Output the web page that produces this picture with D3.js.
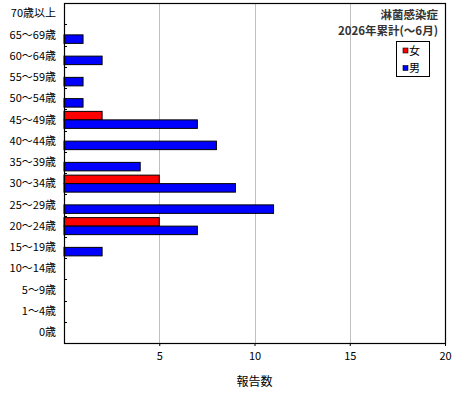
<!DOCTYPE html>
<html>
<head>
<meta charset="utf-8">
<script src="https://cdn.jsdelivr.net/npm/d3@7"></script>
<style>
  body { margin: 0; background: #fff; }
  text { font-family: "Noto Sans CJK JP", "DejaVu Sans", sans-serif; fill: #000; }
</style>
</head>
<body>
<svg id="chart" width="460" height="400"></svg>
<script>
// --- Data ---------------------------------------
// Age groups, top of the chart to bottom
const ageGroups = ["70歳以上", "65～69歳", "60～64歳", "55～59歳", "50～54歳", "45～49歳",
  "40～44歳", "35～39歳", "30～34歳", "25～29歳", "20～24歳", "15～19歳",
  "10～14歳", "5～9歳", "1～4歳", "0歳"];
const femaleCounts = [0, 0, 0, 0, 0, 2, 0, 0, 5, 0, 5, 0, 0, 0, 0, 0];
const maleCounts   = [0, 1, 2, 1, 1, 7, 8, 4, 9, 11, 7, 2, 0, 0, 0, 0];
const seriesNames = ["女", "男"];
const seriesColors = ["#ff0000", "#0000ff"];
const xTicks = [5, 10, 15, 20];
const titleLines = ["淋菌感染症", "2026年累計(～6月)"];
const xTitle = "報告数";

// --- Layout ------------------
var plot = {left: 64, top: 3, right: 445, bottom: 343};

const svg = d3.select("#chart");

var x = d3.scaleLinear()
  .domain([0, 20])
  .range([plot.left, plot.right]);

var y = d3.scaleBand()
  .domain(ageGroups)
  .range([plot.top, plot.bottom])
  .padding(0);

// two bars per age group, female on top
var ySub = d3.scaleBand()
  .domain(seriesNames)
  .range([0, y.bandwidth()])
  .paddingInner(0)
  .paddingOuter(0.25);

var rows = ageGroups.map((g, i) => ({
  group: g,
  values: [femaleCounts[i], maleCounts[i]]
}));

// --- Gridlines ------------------
svg.append("g")
  .selectAll("line")
  .data(xTicks.filter(t => t < 20))
  .enter()
  .append("line")
  .attr("x1", d => Math.round(x(d)) + 0.5)
  .attr("x2", d => Math.round(x(d)) + 0.5)
  .attr("y1", plot.top)
  .attr("y2", plot.bottom)
  .attr("stroke", "#c0c0c0")
  .attr("stroke-width", 1);

// --- Bars ------------------
var groups = svg.append("g")
  .selectAll("g")
  .data(rows)
  .enter()
  .append("g")
  .attr("transform", d => "translate(0," + y(d.group) + ")");

groups.selectAll("rect")
  .data(d => d.values.map((v, j) => ({series: seriesNames[j], value: v, color: seriesColors[j]})))
  .enter()
  .filter(d => d.value > 0)
  .append("rect")
  .attr("x", x(0))
  .attr("y", d => ySub(d.series))
  .attr("width", d => x(d.value) - x(0))
  .attr("height", ySub.bandwidth())
  .attr("fill", d => d.color)
  .attr("stroke", "#000")
  .attr("stroke-width", 1);

// --- Frame ------------------
svg.append("rect")
  .attr("x", plot.left + 0.5)
  .attr("y", plot.top + 0.5)
  .attr("width", plot.right - plot.left)
  .attr("height", plot.bottom - plot.top)
  .attr("fill", "none")
  .attr("stroke", "#000")
  .attr("stroke-width", 1.2);

// --- Y axis: ticks at band boundaries, labels at centres ------------------
svg.append("g")
  .selectAll("line")
  .data(ageGroups.slice(1))
  .enter()
  .append("line")
  .attr("x1", plot.left)
  .attr("x2", plot.left + 3)
  .attr("y1", d => Math.round(y(d)) + 0.5)
  .attr("y2", d => Math.round(y(d)) + 0.5)
  .attr("stroke", "#000");

svg.append("g")
  .selectAll("text")
  .data(ageGroups)
  .enter()
  .append("text")
  .attr("x", 56)
  .attr("y", d => y(d) + y.bandwidth() / 2)
  .attr("dy", "0.35em")
  .attr("text-anchor", "end")
  .style("font-size", "11px")
  .text(d => d);

// --- X axis ------------------
var xAxis = svg.append("g")
  .attr("transform", "translate(0," + plot.bottom + ")")
  .call(d3.axisBottom(x).tickValues(xTicks).tickSize(3).tickPadding(6));

xAxis.select(".domain").remove();
xAxis.selectAll("text")
  .style("font-size", "11px")
  .style("font-family", "\"Noto Sans CJK JP\", sans-serif");

svg.append("text")
  .attr("x", (plot.left + plot.right) / 2)
  .attr("y", 386)
  .attr("text-anchor", "middle")
  .style("font-size", "12px")
  .text(xTitle);

// --- Title, top right ------------------
// slightly smaller than 12px so the two lines don't collide
svg.append("g")
  .selectAll("text")
  .data(titleLines)
  .enter()
  .append("text")
  .attr("x", 438)
  .attr("y", (d, i) => 19 + i * 16)
  .attr("text-anchor", "end")
  .style("font-size", "11.5px")
  .style("font-weight", "bold")
  .style("fill", "#333")
  .text(d => d);

// --- Legend ------------------
var legend = svg.append("g");

legend.append("rect")
  .attr("x", 396.5)
  .attr("y", 41.5)
  .attr("width", 33)
  .attr("height", 35)
  .attr("fill", "#fff")
  .attr("stroke", "#000");

var items = legend.selectAll("g")
  .data(seriesNames)
  .enter()
  .append("g")
  .attr("transform", (d, i) => "translate(403," + (48 + i * 17.5) + ")");

items.append("rect")
  .attr("width", 5)
  .attr("height", 5)
  .attr("fill", (d, i) => seriesColors[i])
  .attr("stroke", "#000")
  .attr("stroke-width", 0.6);

items.append("text")
  .attr("x", 6)
  .attr("y", 3)
  .attr("dy", "0.35em")
  .style("font-size", "11px")
  .text(d => d);
</script>
</body>
</html>
